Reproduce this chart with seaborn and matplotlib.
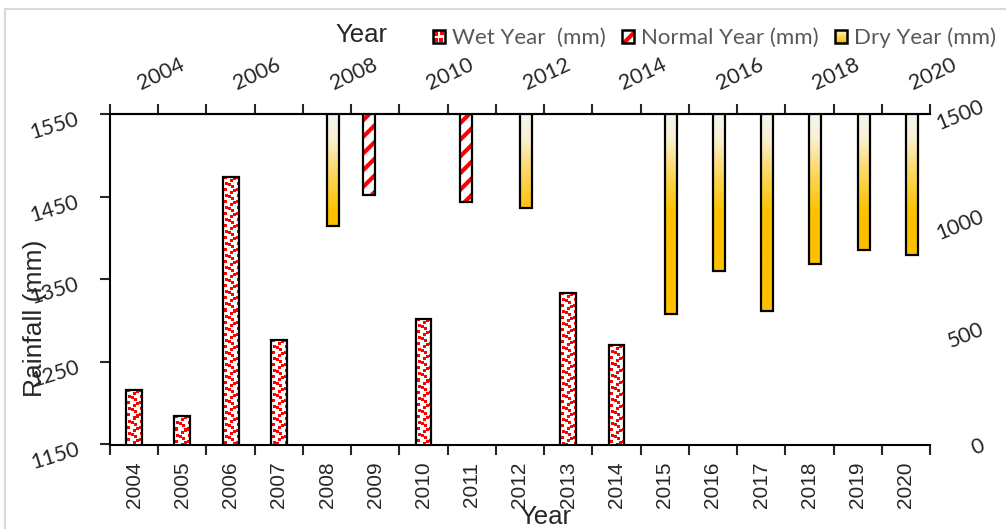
import numpy as np
import pandas as pd
import matplotlib
matplotlib.use("Agg")
import matplotlib.pyplot as plt
import seaborn as sns
from matplotlib.colors import LinearSegmentedColormap
from matplotlib.patches import Rectangle
from matplotlib.transforms import ScaledTranslation
from matplotlib.legend_handler import HandlerBase

# ---------------- data ----------------
years = list(range(2004, 2021))
wet_years = [2004, 2005, 2006, 2007, 2010, 2013, 2014]
wet_mm = [1216, 1184, 1474, 1277, 1302, 1334, 1271]
normal_years = [2009, 2011]
normal_mm = [1133, 1103]
dry_years = [2008, 2012, 2015, 2016, 2017, 2018, 2019, 2020]
dry_mm = [992, 1073, 591, 788, 606, 819, 882, 859]
left_ticks = [1150, 1250, 1350, 1450, 1550]
right_ticks = [0, 500, 1000, 1500]
top_labels = [str(y) for y in range(2004, 2021, 2)]
legend_labels = ["Wet Year  (mm)", "Normal Year (mm)", "Dry Year (mm)"]

# ---------------- style ----------------
sns.set_style("white")
plt.rcParams["font.family"] = ["Liberation Sans", "DejaVu Sans"]
plt.rcParams["hatch.linewidth"] = 3.0

W, H = 1006, 529
fig = plt.figure(figsize=(W / 100, H / 100), dpi=100)
fx = lambda px: px / W
fy = lambda py: 1 - py / H

# light chart border
fig.patches.append(Rectangle((fx(5), fy(600)), 1.2, fy(9) - fy(600), transform=fig.transFigure,
                             fill=False, edgecolor="#D9D9D9", linewidth=1.5, zorder=0))

ax = fig.add_axes([fx(110), fy(444.5), fx(930) - fx(110), fy(114.3) - fy(444.5)])
ax.set_facecolor("none")

LO, HI = left_ticks[0], left_ticks[-1]
RLO, RHI = right_ticks[0], right_ticks[-1]

# ---------------- wet bars (seaborn) ----------------
order = [str(y) for y in years]
df_wet = pd.DataFrame({"Year": [str(y) for y in wet_years], "Rainfall": wet_mm})
sns.barplot(data=df_wet, x="Year", y="Rainfall", order=order, ax=ax, width=0.33,
            color="white", saturation=1, edgecolor="black", linewidth=1.6, zorder=3)
ax.set_xlim(-0.5, len(years) - 0.5)
ax.set_ylim(LO, HI)

# confetti texture clipped to each wet bar (12x12 tile of 3x3 squares)
tile = np.zeros((12, 12), dtype=int)
for (r, c) in [(0, 1), (3, 7), (6, 2), (9, 8), (1, 10), (7, 5)]:
    for dr in range(3):
        for dc in range(3):
            tile[(r + dr) % 12, (c + dc) % 12] = 1
fig.canvas.draw()
sx = ax.transData.transform((1, LO))[0] - ax.transData.transform((0, LO))[0]
sy = ax.transData.transform((0, LO + 1))[1] - ax.transData.transform((0, LO))[1]
for p in list(ax.patches):
    h = p.get_height()
    if not np.isfinite(h) or h <= LO:
        continue
    x0, w = p.get_x(), p.get_width()
    npx_w = max(int(round(w * sx)), 2)
    npx_h = max(int(round((h - LO) * sy)), 2)
    big = np.tile(tile, (npx_h // 12 + 2, npx_w // 12 + 2))[:npx_h, :npx_w]
    img = np.ones((npx_h, npx_w, 3))
    img[big == 1] = [1, 0, 0]
    im = ax.imshow(img, extent=(x0, x0 + w, LO, h), origin="upper", aspect="auto",
                   interpolation="nearest", zorder=2.9)
    im.set_clip_path(p)
    p.set_facecolor("none")

# ---------------- secondary (hanging) bars ----------------
ax2 = ax.twinx()
ax2.set_facecolor("none")
x_norm = np.array([years.index(y) for y in normal_years]) - 0.125
x_dry = np.array([years.index(y) for y in dry_years]) + 0.125
nv = np.array(normal_mm, dtype=float)
dv = np.array(dry_mm, dtype=float)

ax2.bar(x_norm, RHI - nv, bottom=nv, width=0.25, color="white", edgecolor="red",
        hatch="//", linewidth=0, zorder=2)
ax2.bar(x_norm, RHI - nv, bottom=nv, width=0.25, facecolor="none", edgecolor="black",
        linewidth=1.6, zorder=3)

cmap = LinearSegmentedColormap.from_list(
    "dry", [(0, "#F4F4F2"), (0.25, "#FAF0D2"), (0.6, "#FDD75E"), (1, "#FFC000")])
dry_bars = ax2.bar(x_dry, RHI - dv, bottom=dv, width=0.25, facecolor="none",
                   edgecolor="black", linewidth=1.6, zorder=3)
for b in dry_bars:
    y0 = b.get_y()
    y1 = y0 + b.get_height()
    ys = np.linspace(y1, y0, 300)
    t = np.clip((RHI - ys) / 450.0, 0, 1)
    img = cmap(t)[:, None, :]
    im = ax2.imshow(img, extent=(b.get_x(), b.get_x() + b.get_width(), y0, y1),
                    origin="upper", aspect="auto", interpolation="bilinear", zorder=2)
    im.set_clip_path(b)

ax.set_xlim(-0.5, len(years) - 0.5)
ax.set_ylim(LO, HI)
ax2.set_ylim(RLO, RHI)

# ---------------- axes styling ----------------
for a in (ax, ax2):
    for s in a.spines.values():
        s.set_linewidth(1.5)
        s.set_color("black")
    a.spines["right"].set_visible(False)
    a.grid(False)
ax2.spines["left"].set_visible(False)
ax2.spines["top"].set_visible(False)
ax2.spines["bottom"].set_visible(False)

# bottom axis
ax.set_xticks(range(len(years)))
ax.set_xticklabels(order, rotation=90, fontsize=15, family=["Liberation Sans"])
ax.set_xticks(np.arange(-0.5, len(years)), minor=True)
ax.tick_params(axis="x", which="major", length=0, pad=12.3)
ax.tick_params(axis="x", which="minor", direction="out", length=7, width=1.5, bottom=True)
ax.set_xlabel("")
ax.set_ylabel("")

NUMSIZE = 15.5

# left axis
ax.set_yticks(left_ticks)
ax.set_yticklabels([str(v) for v in left_ticks], rotation=17, fontsize=NUMSIZE, family=["Lato"])
ax.tick_params(axis="y", which="major", direction="out", length=7, width=1.5, pad=13.5, left=True)
for lab in ax.get_yticklabels():
    lab.set_ha("right")
    lab.set_transform(lab.get_transform() + ScaledTranslation(0, -3 / 100, fig.dpi_scale_trans))

# right axis
ax2.set_yticks(right_ticks)
ax2.set_yticklabels([str(v) for v in right_ticks], rotation=22, fontsize=NUMSIZE, family=["Lato"])
ax2.tick_params(axis="y", length=0, pad=41)
for lab in ax2.get_yticklabels():
    lab.set_ha("right")
    n = len(lab.get_text())
    lab.set_transform(lab.get_transform() +
                      ScaledTranslation(0, (1 + 3 * (n - 1)) / 100, fig.dpi_scale_trans))

# top axis
sec = ax.secondary_xaxis("top")
sec.set_xticks(np.arange(-0.5, len(years)), labels=[""] * (len(years) + 1))
sec.set_xticks(np.arange(0, len(years), 2), labels=top_labels, minor=True)
sec.tick_params(axis="x", which="major", direction="out", length=7, width=1.5)
sec.tick_params(axis="x", which="minor", length=0, pad=15)
for lab in sec.get_xticklabels(minor=True):
    lab.set_rotation(25)
    lab.set_ha("left")
    lab.set_va("bottom")
    lab.set_fontsize(NUMSIZE)
    lab.set_family(["Lato"])
sec.spines["top"].set_linewidth(1.5)

# axis titles
fig.text(fx(35), fy(318), "Rainfall (mm)", rotation=90, ha="center", va="center", fontsize=19)
fig.text(fx(545), fy(517), "Year", ha="center", va="center", fontsize=18.5)
fig.text(fx(361), fy(35), "Year", ha="center", va="center", fontsize=18.5)

# ---------------- legend ----------------
class HandlerWet(HandlerBase):
    def create_artists(self, legend, orig, xd, yd, w, h, fs, trans):
        arts = [Rectangle((-xd, -yd), w, h, facecolor="white", edgecolor="none", transform=trans)]
        for (a, b_) in [(0.05, 0.55), (0.55, 0.05), (0.6, 0.6), (0.1, 0.05)]:
            arts.append(Rectangle((-xd + a * w, -yd + b_ * h), 0.35 * w, 0.35 * h,
                                  facecolor="red", edgecolor="none", transform=trans))
        arts.append(Rectangle((-xd, -yd), w, h, facecolor="none", edgecolor="black", lw=1.8,
                              transform=trans))
        return arts

class HandlerNormal(HandlerBase):
    def create_artists(self, legend, orig, xd, yd, w, h, fs, trans):
        return [Rectangle((-xd, -yd), w, h, facecolor="white", edgecolor="red", hatch="//",
                          lw=0, transform=trans),
                Rectangle((-xd, -yd), w, h, facecolor="none", edgecolor="black", lw=1.8,
                          transform=trans)]

class HandlerDry(HandlerBase):
    def create_artists(self, legend, orig, xd, yd, w, h, fs, trans):
        arts = []
        n = 6
        for i in range(n):
            arts.append(Rectangle((-xd, -yd + h * i / n), w, h / n + 0.2,
                                  facecolor=cmap(1 - i / (n - 1) * 0.8), edgecolor="none",
                                  transform=trans))
        arts.append(Rectangle((-xd, -yd), w, h, facecolor="none", edgecolor="black", lw=1.8,
                              transform=trans))
        return arts

hw, hn, hd = object(), object(), object()
leg = fig.legend([hw, hn, hd], legend_labels,
                 handler_map={hw: HandlerWet(), hn: HandlerNormal(), hd: HandlerDry()},
                 loc="center left", bbox_to_anchor=(fx(433), fy(38)), ncol=3, frameon=False,
                 borderpad=0, borderaxespad=0, handlelength=0.52, handleheight=0.52,
                 handletextpad=0.35, columnspacing=0.72,
                 prop={"family": ["Lato"], "size": 16})
for t in leg.get_texts():
    t.set_color("#595959")

fig.savefig("out.png", dpi=100)
